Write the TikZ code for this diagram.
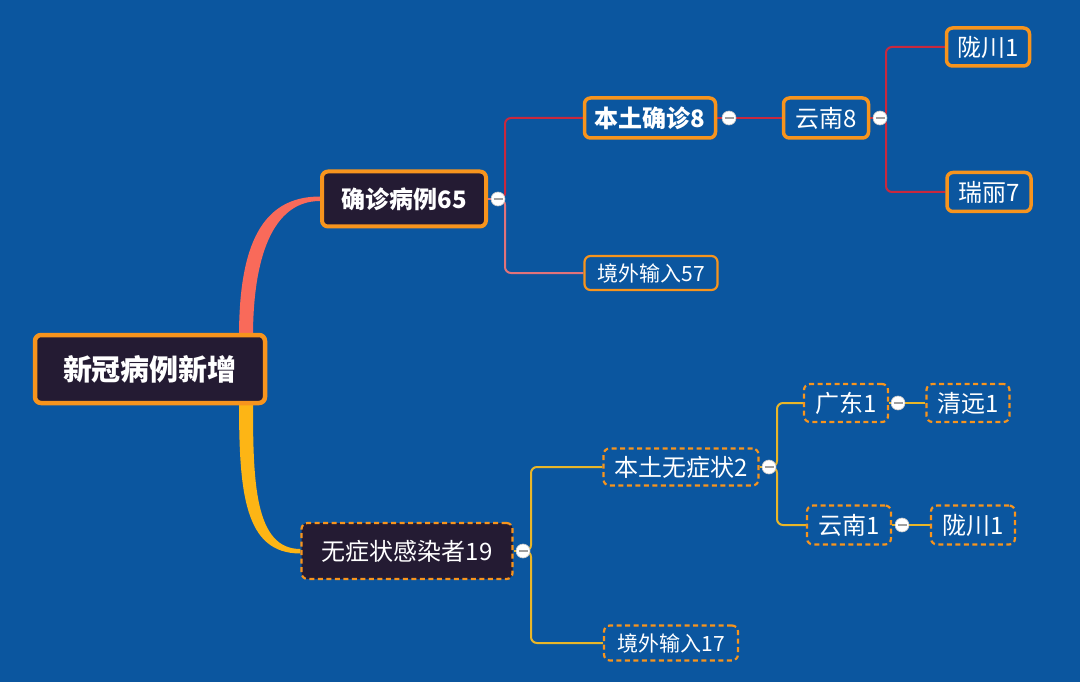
\documentclass[tikz,border=0pt]{standalone}
\usepackage{fontspec}
\setmainfont{Noto Sans CJK SC}
\definecolor{bg}{HTML}{0B569F}
\definecolor{dark}{HTML}{241B33}
\definecolor{org}{HTML}{F7941D}
\definecolor{redl}{HTML}{C9283E}
\definecolor{pinkl}{HTML}{E2737A}
\definecolor{yell}{HTML}{E9B628}
\definecolor{coral}{HTML}{F96A5A}
\definecolor{gold}{HTML}{FDB515}
\pgfdeclarelayer{back}
\pgfdeclarelayer{lines}
\pgfsetlayers{back,lines,main}
\tikzset{
  box/.style={rectangle, rounded corners=6pt, inner sep=0pt, text=white, draw=org, align=center},
  solidbox/.style={box, line width=3.5pt},
  thinbox/.style={box, line width=2.2pt},
  dashbox/.style={box, line width=2.2pt, dash pattern=on 5pt off 3.5pt},
  darkfill/.style={fill=dark},
  bluefill/.style={fill=bg},
  f24/.style={font=\fontsize{24}{28}\selectfont},
  f21/.style={font=\fontsize{21}{25}\selectfont},
  f24b/.style={font=\fontsize{24}{28}\selectfont\bfseries},
  f29b/.style={font=\fontsize{29}{33}\selectfont\bfseries},
  knob/.style={circle, fill=white, draw=gray!45, line width=0.6pt, minimum size=14pt, inner sep=0pt,
    path picture={\draw[gray!75, line width=1.6pt] ([xshift=-4.5pt]path picture bounding box.center) -- ([xshift=4.5pt]path picture bounding box.center);}},
  conn/.style={line width=2pt, rounded corners=6pt},
}
\begin{document}
\begin{tikzpicture}[x=1pt,y=-1pt]
\begin{pgfonlayer}{back}
\fill[bg] (0,0) rectangle (1080,682);
\end{pgfonlayer}
\useasboundingbox (0,0) rectangle (1080,682);

% nodes
\node[solidbox, darkfill, f29b, line width=4.5pt, minimum width=230pt, minimum height=68pt] (root) at (150,369) {新冠病例新增};
\node[solidbox, darkfill, f24b, line width=4pt, minimum width=164pt, minimum height=55pt] (c65) at (404,199) {确诊病例65};
\node[solidbox, bluefill, f24b, minimum width=131pt, minimum height=40pt] (bt8) at (650,118) {本土确诊8};
\node[solidbox, bluefill, f24, minimum width=85pt, minimum height=40pt] (yn8) at (826,118) {云南8};
\node[solidbox, bluefill, f24, minimum width=83pt, minimum height=38pt] (lc1) at (988,47) {陇川1};
\node[solidbox, bluefill, f24, minimum width=84pt, minimum height=39pt] (rl7) at (989,192) {瑞丽7};
\node[thinbox, bluefill, f21, minimum width=133pt, minimum height=34pt] (jw57) at (651,273) {境外输入57};

\node[dashbox, darkfill, f24, minimum width=211pt, minimum height=56pt] (wz19) at (407,551) {无症状感染者19};
\node[dashbox, bluefill, f24, minimum width=155pt, minimum height=37pt] (bw2) at (681,467) {本土无症状2};
\node[dashbox, bluefill, f24, minimum width=84pt, minimum height=38pt] (gd1) at (846,403) {广东1};
\node[dashbox, bluefill, f24, minimum width=83pt, minimum height=38pt] (qy1) at (968,403) {清远1};
\node[dashbox, bluefill, f24, minimum width=84pt, minimum height=39pt] (yn1) at (849,525) {云南1};
\node[dashbox, bluefill, f24, minimum width=84pt, minimum height=39pt] (lc1b) at (973,525) {陇川1};
\node[dashbox, bluefill, f21, minimum width=134pt, minimum height=35pt] (jw17) at (671,643) {境外输入17};

% knobs
\node[knob] (k1) at (498,199) {};
\node[knob] (k2) at (729,118) {};
\node[knob] (k3) at (880,118) {};
\node[knob] (k4) at (523,551) {};
\node[knob] (k5) at (769,467) {};
\node[knob] (k6) at (898,403) {};
\node[knob] (k7) at (902,525) {};

\begin{pgfonlayer}{lines}
% main tapered branches
\fill[coral] ([xshift=89pt,yshift=-4pt]root.north) .. controls +(0,-92) and +(-58,0) .. ([yshift=2.5pt]c65.west)
  -- ([yshift=-2pt]c65.west) .. controls +(-48,0) and +(0,-78) .. ([xshift=103pt,yshift=-4pt]root.north) -- cycle;
\fill[gold] ([xshift=89pt,yshift=4pt]root.south) .. controls +(0,92) and +(-56,0) .. ([yshift=-2.5pt]wz19.west)
  -- ([yshift=2pt]wz19.west) .. controls +(-46,0) and +(0,80) .. ([xshift=103pt,yshift=4pt]root.south) -- cycle;

% upper branches
\draw[pinkl, conn] (c65.east) -- (k1.center);
\draw[redl, conn] (k1.center) -- ++(7,0) |- (bt8.west);
\draw[pinkl, conn] (k1.center) -- ++(7,0) |- (jw57.west);
\draw[redl, conn] (bt8.east) -- (k2.center) -- (yn8.west);
\draw[redl, conn] (yn8.east) -- (k3.center);
\draw[redl, conn] (k3.center) -- ++(6,0) |- (lc1.west);
\draw[redl, conn] (k3.center) -- ++(6,0) |- (rl7.west);

% lower branches
\draw[yell, conn] (wz19.east) -- (k4.center);
\draw[yell, conn] (k4.center) -- ++(8,0) |- (bw2.west);
\draw[yell, conn] (k4.center) -- ++(8,0) |- (jw17.west);
\draw[yell, conn] (bw2.east) -- (k5.center);
\draw[yell, conn] (k5.center) -- ++(8,0) |- (gd1.west);
\draw[yell, conn] (k5.center) -- ++(8,0) |- (yn1.west);
\draw[yell, conn] (gd1.east) -- (k6.center) -- (qy1.west);
\draw[yell, conn] (yn1.east) -- (k7.center) -- (lc1b.west);
\end{pgfonlayer}
\end{tikzpicture}
\end{document}
